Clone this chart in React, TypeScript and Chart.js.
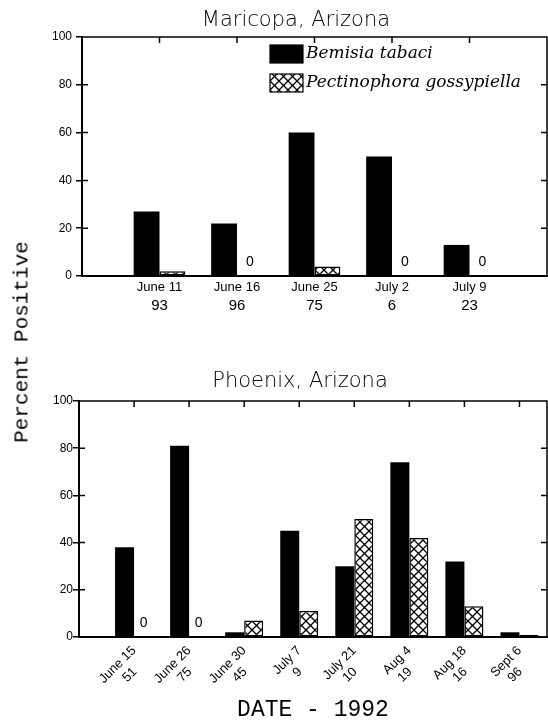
import React, { useEffect, useRef } from 'react';
import { Chart, registerables } from 'chart.js';

Chart.register(...registerables);

// ---------- data ----------
const seriesNames = ['Bemisia tabaci', 'Pectinophora gossypiella'];

const topTitle = 'Maricopa, Arizona';
const topDates = ['June 11', 'June 16', 'June 25', 'July 2', 'July 9'];
const topSampleSizes = ['93', '96', '75', '6', '23'];
const topBemisia = [27, 22, 60, 50, 13];
const topPectinophora = [2, 0, 4, 0, 0];

const bottomTitle = 'Phoenix, Arizona';
const bottomDates = ['June 15', 'June 26', 'June 30', 'July 7', 'July 21', 'Aug 4', 'Aug 18', 'Sept 6'];
const bottomSampleSizes = ['51', '75', '45', '9', '10', '19', '16', '96'];
const bottomBemisia = [38, 81, 2, 45, 30, 74, 32, 2];
const bottomPectinophora = [0, 0, 7, 11, 50, 42, 13, 1];

const yAxisTitle = 'Percent Positive';
const xAxisTitle = 'DATE - 1992';

// ---------- helpers ----------
function makeHatch(): CanvasPattern | string {
  const s = 9;
  const c = document.createElement('canvas');
  c.width = s;
  c.height = s;
  const g = c.getContext('2d');
  if (!g) return '#fff';
  g.fillStyle = '#fff';
  g.fillRect(0, 0, s, s);
  g.strokeStyle = '#000';
  g.lineWidth = 1.3;
  g.beginPath();
  g.moveTo(0, 0);
  g.lineTo(s, s);
  g.moveTo(s, 0);
  g.lineTo(0, s);
  g.stroke();
  return g.createPattern(c, 'repeat') || '#fff';
}

const framePlugin = {
  id: 'frameTicks',
  afterDatasetsDraw(chart: any) {
    const { ctx, chartArea: a, scales } = chart;
    ctx.save();
    ctx.strokeStyle = '#000';
    ctx.lineWidth = 1.5;
    ctx.beginPath();
    ctx.moveTo(a.left, a.top);
    ctx.lineTo(a.right, a.top);
    ctx.lineTo(a.right, a.bottom);
    const y = scales.y;
    y.ticks.forEach((t: any) => {
      const py = y.getPixelForValue(t.value);
      if (t.value > 0 && t.value < 100) {
        ctx.moveTo(a.left, py);
        ctx.lineTo(a.left + 6, py);
        ctx.moveTo(a.right, py);
        ctx.lineTo(a.right - 6, py);
      }
    });
    const x = scales.x;
    x.ticks.forEach((t: any) => {
      const px = x.getPixelForValue(t.value);
      ctx.moveTo(px, a.top);
      ctx.lineTo(px, a.top + 6);
    });
    ctx.stroke();
    ctx.restore();
  },
};

const zeroLabelPlugin = {
  id: 'zeroLabels',
  afterDatasetsDraw(chart: any) {
    const { ctx } = chart;
    const meta = chart.getDatasetMeta(1);
    const data = chart.data.datasets[1].data;
    ctx.save();
    ctx.fillStyle = '#000';
    ctx.font = '14px "Liberation Sans"';
    ctx.textAlign = 'center';
    ctx.textBaseline = 'middle';
    meta.data.forEach((el: any, i: number) => {
      if (data[i] && data[i].y === 0) ctx.fillText('0', el.x, el.y - 14);
    });
    ctx.restore();
  },
};

const insideLegendPlugin = {
  id: 'insideLegend',
  afterDraw(chart: any) {
    const { ctx, chartArea: a } = chart;
    ctx.save();
    chart.data.datasets.forEach((ds: any, i: number) => {
      const bx = a.left + 188;
      const by = a.top + 8 + i * 29;
      ctx.fillStyle = ds.backgroundColor;
      ctx.fillRect(bx, by, 33, 18);
      ctx.strokeStyle = '#000';
      ctx.lineWidth = 1.2;
      ctx.strokeRect(bx, by, 33, 18);
      ctx.fillStyle = '#000';
      ctx.font = 'italic 17px "DejaVu Serif"';
      ctx.textAlign = 'left';
      ctx.textBaseline = 'middle';
      ctx.fillText(ds.label, bx + 36, by + 9);
    });
    ctx.restore();
  },
};

const toPoints = (vals: number[]) => vals.map((v, i) => ({ x: i + 1, y: v }));

function buildDatasets(black: number[], hatched: number[], catPct: number, hatch: any) {
  return [
    {
      label: seriesNames[0],
      data: toPoints(black),
      backgroundColor: '#000',
      borderColor: '#000',
      borderWidth: 0,
      barPercentage: 1,
      categoryPercentage: catPct,
      xAxisID: 'x',
      yAxisID: 'y',
    },
    {
      label: seriesNames[1],
      data: toPoints(hatched),
      backgroundColor: hatch,
      borderColor: '#000',
      borderWidth: 1.5,
      borderSkipped: false,
      barPercentage: 1,
      categoryPercentage: catPct,
      xAxisID: 'x',
      yAxisID: 'y',
    },
  ];
}

const yScale = (width: number, pad: number) => ({
  type: 'linear',
  min: 0,
  max: 100,
  afterFit: (s: any) => {
    s.width = width;
  },
  ticks: {
    stepSize: 20,
    padding: pad,
    color: '#000',
    font: { family: 'Liberation Sans', size: 12 },
  },
  grid: {
    display: true,
    drawOnChartArea: false,
    drawTicks: true,
    tickLength: 6,
    color: '#000',
    lineWidth: 1.5,
  },
  border: { display: true, color: '#000', width: 2 },
});

export default function App() {
  const topRef = useRef<HTMLCanvasElement>(null);
  const bottomRef = useRef<HTMLCanvasElement>(null);

  useEffect(() => {
    Chart.defaults.font.family = 'Liberation Sans';
    Chart.defaults.color = '#000';
    const hatch = makeHatch();

    const topChart = new Chart(topRef.current as HTMLCanvasElement, {
      type: 'bar',
      data: { datasets: buildDatasets(topBemisia, topPectinophora, 0.667, hatch) as any },
      options: {
        responsive: false,
        animation: false,
        devicePixelRatio: 1,
        layout: { padding: { left: 45, right: 1, top: 4, bottom: 4 } },
        plugins: {
          legend: { display: false },
          tooltip: { enabled: false },
          title: {
            display: true,
            text: topTitle,
            color: '#000',
            font: { family: 'DejaVu Sans', size: 21, weight: 200 as any, lineHeight: 1.2 },
            padding: { top: 4, bottom: 3.8 },
          },
        },
        scales: {
          x: {
            type: 'linear',
            position: 'bottom',
            offset: false,
            bounds: 'data',
            min: 0,
            max: 6,
            weight: 0,
            afterBuildTicks: (s: any) => {
              s.ticks = topDates.map((_, i) => ({ value: i + 1 }));
            },
            afterFit: (s: any) => {
              s.height = 20;
            },
            grid: { display: false, drawTicks: false, offset: false },
            border: { display: true, color: '#000', width: 2 },
            ticks: {
              autoSkip: false,
              minRotation: 0,
              maxRotation: 0,
              padding: 4,
              color: '#000',
              font: { family: 'Liberation Sans', size: 13, lineHeight: 1.2 },
              callback: (_v: any, i: number) => topDates[i],
            },
          },
          x2: {
            type: 'linear',
            position: 'bottom',
            offset: false,
            bounds: 'data',
            min: 0,
            max: 6,
            weight: 1,
            afterBuildTicks: (s: any) => {
              s.ticks = topSampleSizes.map((_, i) => ({ value: i + 1 }));
            },
            afterFit: (s: any) => {
              s.height = 20;
            },
            grid: { display: false, drawTicks: false, offset: false },
            border: { display: false },
            ticks: {
              autoSkip: false,
              minRotation: 0,
              maxRotation: 0,
              padding: 1,
              color: '#000',
              font: { family: 'Liberation Sans', size: 15, lineHeight: 1.2 },
              callback: (_v: any, i: number) => topSampleSizes[i],
            },
          },
          y: yScale(37, 4) as any,
        },
      } as any,
      plugins: [framePlugin, zeroLabelPlugin, insideLegendPlugin],
    });

    const bottomChart = new Chart(bottomRef.current as HTMLCanvasElement, {
      type: 'bar',
      data: { datasets: buildDatasets(bottomBemisia, bottomPectinophora, 0.69, hatch) as any },
      options: {
        responsive: false,
        animation: false,
        devicePixelRatio: 1,
        layout: { padding: { left: 53, right: 1, top: 4, bottom: 0 } },
        plugins: {
          legend: { display: false },
          tooltip: { enabled: false },
          title: {
            display: true,
            text: bottomTitle,
            color: '#000',
            font: { family: 'DejaVu Sans', size: 21, weight: 200 as any, lineHeight: 1.2 },
            padding: { top: 5, bottom: 6.8 },
          },
        },
        scales: {
          x: {
            type: 'linear',
            position: 'bottom',
            offset: false,
            bounds: 'data',
            min: 0,
            max: 8.5,
            afterBuildTicks: (s: any) => {
              s.ticks = bottomDates.map((_, i) => ({ value: i + 1 }));
            },
            afterFit: (s: any) => {
              s.height = 84;
            },
            grid: { display: false, drawTicks: false, offset: false },
            border: { display: true, color: '#000', width: 2 },
            ticks: {
              autoSkip: false,
              minRotation: 45,
              maxRotation: 45,
              padding: 6,
              color: '#000',
              font: { family: 'Liberation Sans', size: 13, lineHeight: 1.2 },
              callback: (_v: any, i: number) => [bottomDates[i], bottomSampleSizes[i] + '    '],
            },
            title: {
              display: true,
              text: xAxisTitle,
              color: '#000',
              font: { family: 'Liberation Mono', size: 23, lineHeight: 1 },
              padding: { top: 0, bottom: 0 },
            },
          },
          y: yScale(26, 0) as any,
        },
      } as any,
      plugins: [framePlugin, zeroLabelPlugin],
    });

    return () => {
      topChart.destroy();
      bottomChart.destroy();
    };
  }, []);

  return (
    <div style={{ position: 'absolute', left: 0, top: 0, width: 548, height: 721, background: '#fff' }}>
      <canvas
        ref={topRef}
        width={548}
        height={320}
        style={{ position: 'absolute', left: 0, top: 0, display: 'block' }}
      />
      <canvas
        ref={bottomRef}
        width={548}
        height={361}
        style={{ position: 'absolute', left: 0, top: 360, display: 'block' }}
      />
      <div
        style={{
          position: 'absolute',
          left: 22,
          top: 342,
          transform: 'translate(-50%, -50%) rotate(-90deg)',
          whiteSpace: 'nowrap',
          fontFamily: '"Liberation Mono", monospace',
          fontSize: 21,
          lineHeight: 1,
          color: '#000',
        }}
      >
        {yAxisTitle}
      </div>
    </div>
  );
}
